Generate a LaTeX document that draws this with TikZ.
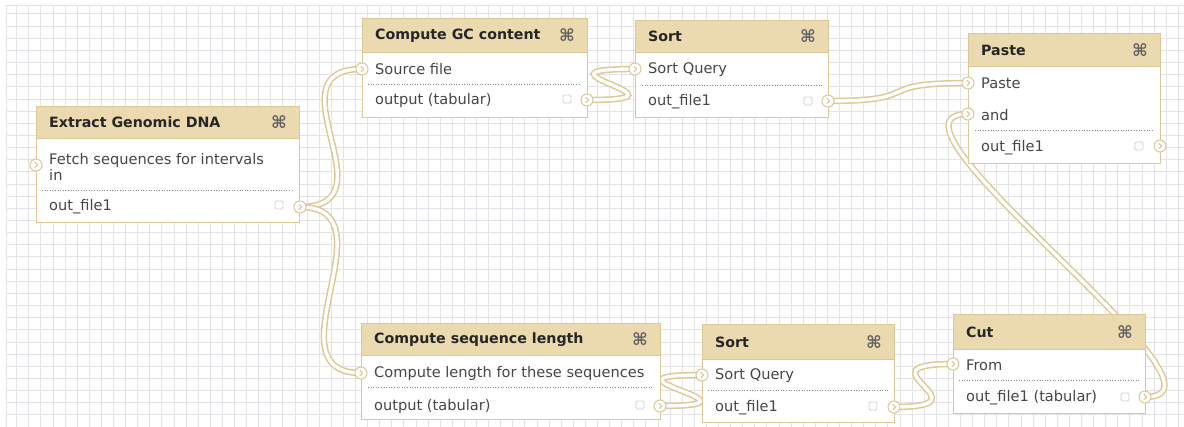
\documentclass[tikz,border=0pt]{standalone}
\usepackage{fontspec}
\setmainfont{DejaVu Sans}
\usetikzlibrary{positioning}

\pgfdeclarelayer{grid}
\pgfdeclarelayer{wires}
\pgfsetlayers{grid,wires,main}

\definecolor{tanhead}{RGB}{235,217,176}
\definecolor{tanline}{RGB}{220,199,150}
\definecolor{wirecol}{RGB}{222,200,148}
\definecolor{gridcol}{RGB}{228,228,232}
\definecolor{rowtext}{RGB}{70,70,70}

\tikzset{
  toolbox/.style={draw=tanline, fill=white, line width=1pt, anchor=north west, inner sep=0pt},
  toolhead/.style={draw=tanline, fill=tanhead, line width=1pt, anchor=north west, inner sep=0pt},
  title/.style={anchor=west, inner sep=0pt, text=black!85, font=\bfseries\fontsize{14.2}{16}\selectfont},
  row/.style={anchor=west, inner sep=0pt, text=rowtext, align=left, font=\fontsize{14.6}{15.5}\selectfont},
  closer/.style={inner sep=0pt, text=black!62, font=\bfseries\fontsize{17}{17}\selectfont},
  sepline/.style={draw=black!45, dotted, line width=0.6pt},
  port/.style={circle, draw=tanline, fill=white, line width=1pt, minimum size=12pt, inner sep=0pt,
    path picture={\draw[tanline, line width=1pt]
      ([shift={(-1.2pt,2.8pt)}]path picture bounding box.center) --
      ([shift={(1.6pt,0pt)}]path picture bounding box.center) --
      ([shift={(-1.2pt,-2.8pt)}]path picture bounding box.center);}},
  outsq/.style={draw=black!18, rounded corners=1.5pt, minimum size=8pt, inner sep=0pt, line width=0.8pt},
  wire/.style={draw=wirecol, double=white, line width=1.5pt, double distance=3.4pt},
}

\begin{document}
\begin{tikzpicture}[x=1pt, y=-1pt]
  \useasboundingbox (0,0) rectangle (1184,427);

  % grid
  \begin{pgfonlayer}{grid}
    \fill[white] (0,0) rectangle (1184,427);
    \foreach \i in {0,...,96}
      \draw[gridcol, line width=1pt] ({16.7+12.1*\i},6) -- ({16.7+12.1*\i},427);
    \foreach \j in {0,...,34}
      \draw[gridcol, line width=1pt] (6,{14+12.15*\j}) -- (1184,{14+12.15*\j});
    \draw[gridcol, line width=1pt] (6,427) -- (6,6) -- (1184,6);
  \end{pgfonlayer}

  % Extract Genomic DNA
  \node[toolbox, minimum width=263pt, minimum height=116pt] (dna) at (36,106) {};
  \node[toolhead, minimum width=263pt, minimum height=32pt] (dnahead) at (dna.north west) {};
  \node[title] (dnatitle) at ([xshift=13pt]dnahead.west) {Extract Genomic DNA};
  \node[closer] (dnaclose) at ([xshift=-21pt]dnahead.east) {⌘};
  \node[row] (dnarow) at (49,167) {Fetch sequences for intervals\\in};
  \draw[sepline] (42,190) -- (293,190);
  \node[row] (dnaout) at (49,207) {out\_file1};
  \node[port] (dnaI) at (36,165) {};
  \node[outsq] (dnasq) at (279,205) {};
  \node[port] (dnaO) at (300,207) {};

  % Compute GC content
  \node[toolbox, minimum width=225pt, minimum height=99pt] (gc) at (362,18) {};
  \node[toolhead, minimum width=225pt, minimum height=34pt] (gchead) at (gc.north west) {};
  \node[title] (gctitle) at ([xshift=13pt]gchead.west) {Compute GC content};
  \node[closer] (gcclose) at ([xshift=-21pt]gchead.east) {⌘};
  \node[row] (gcrow) at (375,69) {Source file};
  \draw[sepline] (368,84) -- (581,84);
  \node[row] (gcout) at (375,100) {output (tabular)};
  \node[port] (gcI) at (362,69) {};
  \node[outsq] (gcsq) at (567,99) {};
  \node[port] (gcO) at (587,100) {};

  % Sort (upper)
  \node[toolbox, minimum width=193pt, minimum height=97pt] (sorta) at (635,20) {};
  \node[toolhead, minimum width=193pt, minimum height=32pt] (sortahead) at (sorta.north west) {};
  \node[title] (sortatitle) at ([xshift=13pt]sortahead.west) {Sort};
  \node[closer] (sortaclose) at ([xshift=-21pt]sortahead.east) {⌘};
  \node[row] (sortarow) at (648,70) {Sort Query};
  \draw[sepline] (642,85) -- (822,85);
  \node[row] (sortaout) at (648,102) {out\_file1};
  \node[port] (sortaI) at (635,69) {};
  \node[outsq] (sortasq) at (808,101) {};
  \node[port] (sortaO) at (828,101) {};

  % Paste
  \node[toolbox, minimum width=192pt, minimum height=130pt] (paste) at (968,33) {};
  \node[toolhead, minimum width=192pt, minimum height=33pt] (pastehead) at (paste.north west) {};
  \node[title] (pastetitle) at ([xshift=13pt]pastehead.west) {Paste};
  \node[closer] (pasteclose) at ([xshift=-21pt]pastehead.east) {⌘};
  \node[row] (pasterow) at (981,83) {Paste};
  \node[row] (androw) at (981,115) {and};
  \draw[sepline] (975,130) -- (1154,130);
  \node[row] (pasteout) at (981,148) {out\_file1};
  \node[port] (pasteI) at (968,83) {};
  \node[port] (andI) at (968,114) {};
  \node[outsq] (pastesq) at (1139,146) {};
  \node[port] (pasteO) at (1160,146) {};

  % Compute sequence length
  \node[toolbox, minimum width=299pt, minimum height=96pt] (len) at (361,323) {};
  \node[toolhead, minimum width=299pt, minimum height=32pt] (lenhead) at (len.north west) {};
  \node[title] (lentitle) at ([xshift=13pt]lenhead.west) {Compute sequence length};
  \node[closer] (lenclose) at ([xshift=-21pt]lenhead.east) {⌘};
  \node[row] (lenrow) at (374,373) {Compute length for these sequences};
  \draw[sepline] (368,387) -- (654,387);
  \node[row] (lenout) at (374,406) {output (tabular)};
  \node[port] (lenI) at (361,373) {};
  \node[outsq] (lensq) at (640,405) {};
  \node[port] (lenO) at (660,406) {};

  % Sort (lower)
  \node[toolbox, minimum width=192pt, minimum height=98pt] (sortb) at (702,324) {};
  \node[toolhead, minimum width=192pt, minimum height=35pt] (sortbhead) at (sortb.north west) {};
  \node[title] (sortbtitle) at ([xshift=13pt]sortbhead.west) {Sort};
  \node[closer] (sortbclose) at ([xshift=-21pt]sortbhead.east) {⌘};
  \node[row] (sortbrow) at (715,376) {Sort Query};
  \draw[sepline] (708,390) -- (888,390);
  \node[row] (sortbout) at (715,408) {out\_file1};
  \node[port] (sortbI) at (702,375) {};
  \node[outsq] (sortbsq) at (873,406) {};
  \node[port] (sortbO) at (894,407) {};

  % Cut
  \node[toolbox, minimum width=192pt, minimum height=99pt] (cut) at (953,314) {};
  \node[toolhead, minimum width=192pt, minimum height=35pt] (cuthead) at (cut.north west) {};
  \node[title] (cuttitle) at ([xshift=13pt]cuthead.west) {Cut};
  \node[closer] (cutclose) at ([xshift=-21pt]cuthead.east) {⌘};
  \node[row] (cutrow) at (966,365) {From};
  \draw[sepline] (959,380) -- (1139,380);
  \node[row] (cutout) at (966,398) {out\_file1 (tabular)};
  \node[port] (cutI) at (953,364) {};
  \node[outsq] (cutsq) at (1125,397) {};
  \node[port] (cutO) at (1145,397) {};

  % connectors
  \begin{pgfonlayer}{wires}
    \draw[wire] (dnaO.center) .. controls +(95,0) and +(-95,0) .. (gcI.center);
    \draw[wire] (dnaO.center) .. controls +(95,0) and +(-95,0) .. (lenI.center);
    \draw[wire] (gcO.center) .. controls +(120,0) and +(-120,0) .. (sortaI.center);
    \draw[wire] (sortaO.center) .. controls +(100,0) and +(-100,0) .. (pasteI.center);
    \draw[wire] (lenO.center) .. controls +(120,0) and +(-120,0) .. (sortbI.center);
    \draw[wire] (sortbO.center) .. controls +(100,0) and +(-100,0) .. (cutI.center);
    \draw[wire] (cutO.center) .. controls +(110,0) and +(-110,0) .. (andI.center);
  \end{pgfonlayer}
\end{tikzpicture}
\end{document}
